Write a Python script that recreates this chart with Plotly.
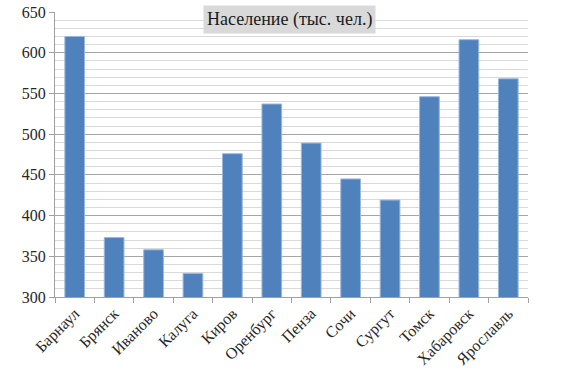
import plotly.graph_objects as go

cities = ["Барнаул", "Брянск", "Иваново", "Калуга", "Киров", "Оренбург",
          "Пенза", "Сочи", "Сургут", "Томск", "Хабаровск", "Ярославль"]
population = [620, 373, 358, 329, 476, 537, 489, 445, 419, 546, 616, 568]
y_ticks = [300, 350, 400, 450, 500, 550, 600, 650]

font_family = "Liberation Serif"

fig = go.Figure()
fig.add_trace(go.Bar(
    x=cities, y=population,
    marker=dict(color="#4f81bd", line=dict(color="#9ab8dd", width=1)),
    width=0.5,
))

fig.update_layout(
    width=588, height=381,
    margin=dict(l=55, r=60, t=12, b=84, autoexpand=False),
    paper_bgcolor="white", plot_bgcolor="white",
    showlegend=False,
    font=dict(family=font_family, size=16, color="#262626"),
    annotations=[dict(
        text="Население (тыс. чел.)", xref="paper", yref="paper",
        x=0.495, y=0.972, xanchor="center", yanchor="middle",
        showarrow=False, bgcolor="#d9d9d9", borderpad=3,
        font=dict(family=font_family, size=18, color="#1a1a1a"),
    )],
)
fig.update_xaxes(
    type="category", tickangle=-45, tickson="boundaries",
    ticks="outside", ticklen=5, tickcolor="#a0a0a0",
    showline=True, linecolor="#a0a0a0", linewidth=1,
    showgrid=False, tickfont=dict(family=font_family, size=16),
    automargin=False,
)
fig.update_yaxes(
    range=[300, 650], tickvals=y_ticks,
    ticks="outside", ticklen=5, tickcolor="#a0a0a0",
    showline=True, linecolor="#a0a0a0", linewidth=1,
    showgrid=True, gridcolor="#a6a6a6", gridwidth=1,
    minor=dict(dtick=10, showgrid=True, gridcolor="#d9d9d9", gridwidth=1),
    zeroline=False, tickfont=dict(family=font_family, size=16),
    automargin=False, ticklabeloverflow="allow",
)

fig.write_html("out.html", config={"displayModeBar": False},
               post_script="document.body.style.margin='0';")
